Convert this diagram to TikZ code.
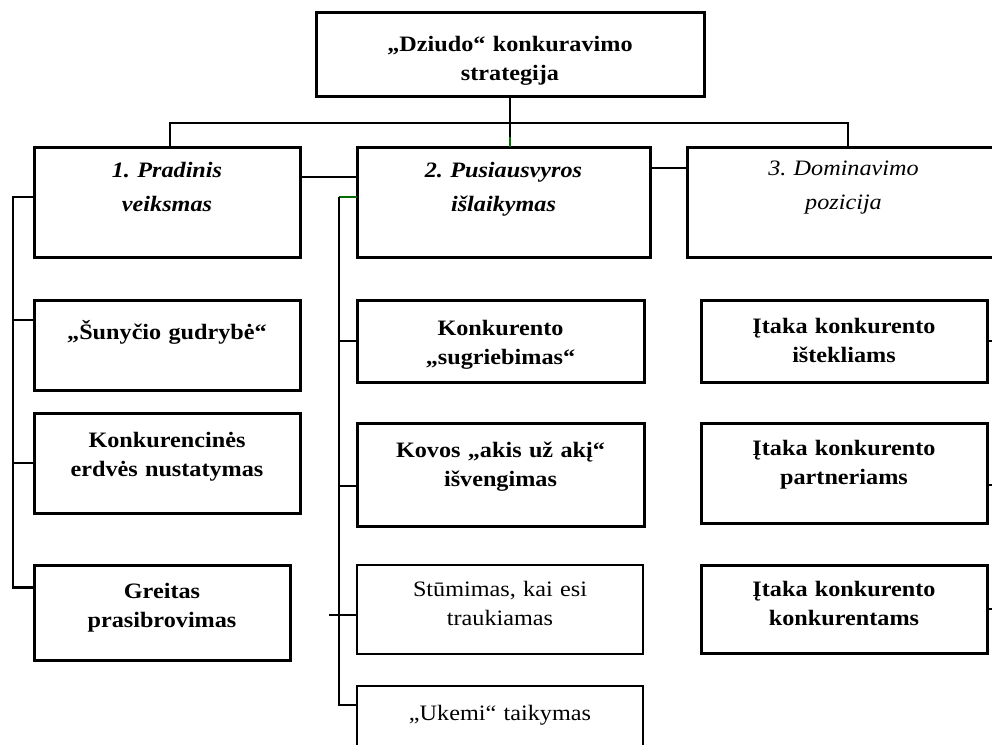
\documentclass[tikz,border=0pt]{standalone}
\usepackage{fontspec}
\setmainfont{Liberation Serif}[FakeStretch=1.1]
\usetikzlibrary{positioning}
\definecolor{linegreen}{RGB}{0,110,0}
\newcommand{\boxfont}{\fontsize{22}{29}\selectfont}
\newcommand{\headfont}{\fontsize{22}{34}\selectfont}
\frenchspacing

\begin{document}
\begin{tikzpicture}[
    x=1pt, y=-1pt,
    block/.style={rectangle, draw, line width=3pt, outer sep=0pt, text width=250pt, align=center, inner sep=2pt, font=\boxfont\bfseries},
    head/.style={block, minimum height=110pt, font=\headfont\bfseries\itshape, text depth=65pt},
    plain/.style={block, line width=2.4pt, font=\boxfont},
    conn/.style={line width=2.7pt}
]
\useasboundingbox (0,0) rectangle (992,744);
\clip (0,0) rectangle (992,744);
\fill[white] (0,0) rectangle (992,744);

% top of the tree
\node[block, minimum width=388pt, minimum height=84pt, text depth=21pt] (top) at (510,54) {„Dziudo“ konkuravimo\\strategija};

% three strategies
\node[head, minimum width=266pt] (h1) at (167,202) {1. Pradinis\\veiksmas};
\node[head, minimum width=293pt, right=57pt of h1] (h2) {2. Pusiausvyros\\išlaikymas};
\node[head, minimum width=313pt, right=37pt of h2, font=\headfont\itshape, text depth=67pt] (h3) {3. Dominavimo\\pozicija};

% left column
\node[block, minimum width=266pt, minimum height=90pt, text depth=31pt, below=43pt of h1] (sun) {„Šunyčio gudrybė“};
\node[block, minimum width=266pt, minimum height=100pt, text depth=47pt, below=23pt of sun] (konk) {Konkurencinės\\erdvės nustatymas};
\node[block, minimum width=256pt, minimum height=95pt, text depth=44pt, below=52pt of konk.south west, anchor=north west] (greit) {Greitas\\prasibrovimas};

% middle column
\node[block, minimum width=287pt, minimum height=82pt, text depth=27pt, below=43pt of h2.south west, anchor=north west] (kon) {Konkurento\\„sugriebimas“};
\node[block, minimum width=287pt, minimum height=103pt, text depth=50pt, below=41pt of kon] (kov) {Kovos „akis už akį“\\išvengimas};
\node[plain, minimum width=286pt, minimum height=89pt, text depth=41pt, below=39pt of kov.south west, anchor=north west] (stum) {Stūmimas, kai esi\\traukiamas};
\node[plain, minimum width=286pt, minimum height=80pt, text depth=27pt, below=32pt of stum] (uke) {„Ukemi“ taikymas};

% right column
\node[block, minimum width=286pt, minimum height=82pt, text depth=31pt, below=43pt of h3.south west, anchor=north west, xshift=14pt] (it1) {Įtaka konkurento\\ištekliams};
\node[block, minimum width=286pt, minimum height=100pt, text depth=51pt, below=41pt of it1] (it2) {Įtaka konkurento\\partneriams};
\node[block, minimum width=286pt, minimum height=88pt, text depth=41pt, below=42pt of it2] (it3) {Įtaka konkurento\\konkurentams};

% bus points
\coordinate (tbus) at (510,123);
\coordinate (tgreen) at (510,137);
\coordinate (lbus) at (13,197);
\coordinate (mbus) at (339,197);
\coordinate (rbus) at (1000,341);

% connectors at the top
\draw[conn] ([xshift=3pt]h1.north) |- (tbus) -| ([xshift=4.5pt]h3.north);
\draw[conn] (top.south) -- (tgreen);
\draw[conn, linegreen] (tgreen) -- (tgreen |- h2.north);
\draw[conn] ([yshift=25pt]h1.east) -- ([yshift=25pt]h2.west);
\draw[conn] ([yshift=34pt]h2.east) -- ([yshift=34pt]h3.west);

% left bus
\draw[conn] ([yshift=5pt]h1.west) -- (lbus) |- ([yshift=25pt]greit.west);
\draw[conn] ([yshift=25pt]sun.west) -- ([yshift=25pt]sun.west -| lbus);
\draw[conn] (konk.west) -- (konk.west -| lbus);

% middle bus
\draw[conn, linegreen] ([yshift=5pt]h2.west) -- (mbus);
\draw[conn] (mbus) |- ([yshift=21pt]uke.west);
\draw[conn] (kon.west) -- (kon.west -| mbus);
\draw[conn] ([yshift=-11.5pt]kov.west) -- ([yshift=-11.5pt]kov.west -| mbus);
\draw[conn] ([yshift=-5.5pt]stum.west) -- ([yshift=-5.5pt, xshift=-10pt]stum.west -| mbus);

% stubs on the right
\draw[conn] (it1.east) -- (it1.east -| rbus);
\draw[conn] ([yshift=-12pt]it2.east) -- ([yshift=-12pt]it2.east -| rbus);
\draw[conn] (it3.east) -- (it3.east -| rbus);
\end{tikzpicture}
\end{document}
